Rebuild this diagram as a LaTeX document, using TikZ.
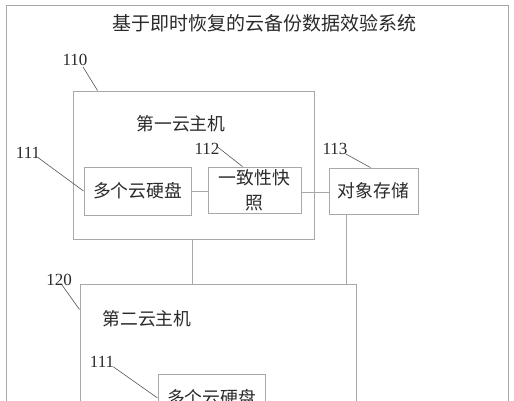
\documentclass[tikz,border=0pt]{standalone}
\usepackage{fontspec}
\setmainfont{Liberation Serif}
\newfontfamily\cjk{Noto Sans CJK SC}
\definecolor{boxline}{HTML}{A8A8A8}
\definecolor{leadline}{HTML}{555555}
\definecolor{txt}{HTML}{2A2A2A}
\begin{document}
\begin{tikzpicture}[x=1pt,y=-1pt,
  box/.style={draw=boxline,line width=0.9pt,inner sep=0pt,text=txt},
  cjkt/.style={font=\cjk\fontsize{17.8}{25}\selectfont,text=txt,inner sep=0pt},
  num/.style={font=\fontsize{17}{19}\selectfont,text=txt,inner sep=0pt},
  leader/.style={draw=leadline,line width=0.6pt},
  conn/.style={draw=boxline,line width=0.9pt}]
\useasboundingbox (0,0) rectangle (514,400);
\clip (0,0) rectangle (514,400);
\fill[white] (0,0) rectangle (514,400);
\draw[boxline,line width=0.9pt] (6,5) rectangle (508,420);
\node[font=\cjk\fontsize{19}{22}\selectfont,text=txt,inner sep=0pt] (title) at (264,23) {基于即时恢复的云备份数据效验系统};
% first host
\node[box,minimum width=241pt,minimum height=148pt] (box110) at (193.5,165) {};
\node[num] (l110) at (75,60) {110};
\node[cjkt] (t1) at (181,124) {第一云主机};
\node[box,cjkt,draw=boxline,minimum width=107pt,minimum height=48pt] (disk1) at (137.5,191) {多个云硬盘};
\node[box,cjkt,draw=boxline,minimum width=93pt,minimum height=46pt,align=center] (snap) at (254.5,190) {一致性快\\照};
\node[box,cjkt,draw=boxline,minimum width=89pt,minimum height=46pt] (obj) at (373.5,191) {对象存储};
\node[num] (l111) at (28,153) {111};
\node[num] (l112) at (207,149) {112};
\node[num] (l113) at (335,149) {113};
% second host
\node[box,minimum width=276pt,minimum height=200pt] (box120) at (218,384) {};
\node[num] (l120) at (59,280) {120};
\node[cjkt] (t2) at (147,319) {第二云主机};
\node[box,cjkt,draw=boxline,minimum width=107pt,minimum height=48pt] (disk2) at (211.5,398) {多个云硬盘};
\node[num] (l111b) at (102,362) {111};
% leaders
\draw[leader] ([xshift=8pt,yshift=-1pt]l110.south) -- ([xshift=25pt]box110.north west);
\draw[leader] ([xshift=-2pt,yshift=1pt]l111.south east) -- (disk1.west);
\draw[leader] ([xshift=-2pt,yshift=2pt]l112.east) -- ([xshift=-12pt]snap.north);
\draw[leader] ([xshift=-2pt,yshift=1pt]l113.south east) -- ([xshift=-3pt]obj.north);
\draw[leader] ([xshift=-10pt,yshift=1pt]l120.south east) -- ([yshift=-26pt]box120.north west);
\draw[leader] ([xshift=-1pt,yshift=1pt]l111b.south east) -- (disk2.west);
% connectors
\draw[conn] (disk1.east) -- (disk1.east -| snap.west);
\draw[conn] ([yshift=-2pt]snap.east) -- ([yshift=-2pt]snap.east -| obj.west);
\draw[conn] ([xshift=-1.5pt]box110.south) -- ([xshift=-1.5pt]box110.south |- box120.north);
\draw[conn] ([xshift=18pt]obj.south west) -- ([xshift=18pt]obj.south west |- box120.north);
\end{tikzpicture}
\end{document}
